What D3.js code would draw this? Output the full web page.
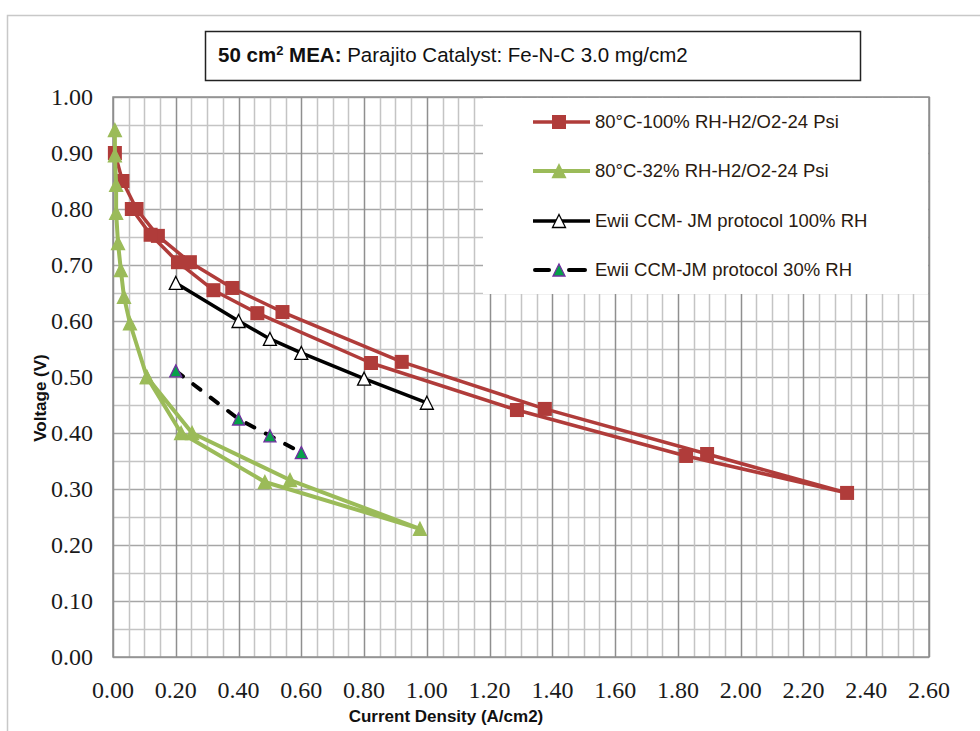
<!DOCTYPE html>
<html>
<head>
<meta charset="utf-8">
<script src="https://cdn.jsdelivr.net/npm/d3@7"></script>
<style>
  body { margin: 0; background: #fff; }
  text { font-family: "Liberation Sans", Arial, sans-serif; }
</style>
</head>
<body>
<div id="chart"></div>
<script>
// 80C 100% RH (goes out along the upper branch, comes back on the lower one)
var redX = [0.006, 0.03, 0.075, 0.143, 0.245, 0.38, 0.54, 0.92, 1.376, 1.893, 2.339, 1.826, 1.287, 0.822, 0.46, 0.32, 0.207, 0.12, 0.06];
var redY = [0.90, 0.85, 0.80, 0.752, 0.705, 0.659, 0.616, 0.527, 0.443, 0.3625, 0.293, 0.359, 0.441, 0.525, 0.614, 0.655, 0.705, 0.754, 0.80];

// 80C 32% RH
var greenX = [0.006, 0.006, 0.01, 0.01, 0.016, 0.025, 0.035, 0.054, 0.108, 0.252, 0.564, 0.978, 0.484, 0.217, 0.108];
var greenY = [0.941, 0.896, 0.843, 0.793, 0.739, 0.691, 0.643, 0.596, 0.50, 0.40, 0.316, 0.229, 0.3125, 0.40, 0.50];

// Ewii CCM - JM protocol 100% RH
var ewii100X = [0.2, 0.4, 0.5, 0.6, 0.8, 1.0];
var ewii100Y = [0.668, 0.600, 0.568, 0.543, 0.497, 0.454];

// Ewii CCM - JM protocol 30% RH
var ewii30X = [0.2, 0.4, 0.5, 0.6];
var ewii30Y = [0.511, 0.425, 0.395, 0.365];

var xTicks = d3.range(0, 2.61, 0.2);
var yTicks = d3.range(0, 1.01, 0.1);

var legendLabels = [
  "80°C-100% RH-H2/O2-24 Psi",
  "80°C-32% RH-H2/O2-24 Psi",
  "Ewii CCM- JM protocol 100% RH",
  "Ewii CCM-JM protocol 30% RH"
];

var width = 980, height = 731;
// plot box in pixels (window.top is reserved, so no plain "top")
var pLeft = 113, pRight = 929, pTop = 97, pBottom = 657;

var svg = d3.select("#chart").append("svg")
  .attr("width", width)
  .attr("height", height);

var x = d3.scaleLinear().domain([0, 2.6]).range([pLeft, pRight]);
var y = d3.scaleLinear().domain([0, 1]).range([pBottom, pTop]);

// outer frame of the pasted chart
svg.append("path")
  .attr("d", "M7.5," + height + " L7.5,15.5 L" + width + ",15.5")
  .attr("fill", "none")
  .attr("stroke", "#c8c8c8")
  .attr("stroke-width", 1.5);

// title box
svg.append("rect")
  .attr("x", 205.5).attr("y", 31.5)
  .attr("width", 655).attr("height", 49)
  .attr("fill", "#fff")
  .attr("stroke", "#222")
  .attr("stroke-width", 1.5);

var title = svg.append("text")
  .attr("x", 218).attr("y", 62)
  .attr("font-size", 20.5)
  .attr("fill", "#111");
title.append("tspan").attr("font-weight", "bold").text("50 cm");
title.append("tspan").attr("font-weight", "bold").attr("font-size", 13).attr("dy", -7).text("2");
title.append("tspan").attr("font-weight", "bold").attr("dy", 7).text(" MEA:");
title.append("tspan").text("  Parajito Catalyst: Fe-N-C 3.0 mg/cm2");

// grid
var minorX = d3.range(0, 2.601, 0.05);
var minorY = d3.range(0, 1.001, 0.05);

svg.append("g").selectAll("line")
  .data(minorY)
  .enter().append("line")
  .attr("x1", pLeft).attr("x2", pRight)
  .attr("y1", function (d) { return Math.round(y(d)) + 0.5; })
  .attr("y2", function (d) { return Math.round(y(d)) + 0.5; })
  .attr("stroke", function (d) { return Math.round(d * 100) % 10 == 0 ? "#a6a6a6" : "#c4c4c4"; })
  .attr("stroke-width", 1.5);

svg.append("g").selectAll("line")
  .data(minorX)
  .enter().append("line")
  .attr("y1", pTop).attr("y2", pBottom)
  .attr("x1", function (d) { return Math.round(x(d)) + 0.5; })
  .attr("x2", function (d) { return Math.round(x(d)) + 0.5; })
  .attr("stroke", function (d) { return Math.round(d * 100) % 20 == 0 ? "#8f8f8f" : "#c4c4c4"; })
  .attr("stroke-width", 1.5);

svg.append("rect")
  .attr("x", pLeft).attr("y", pTop)
  .attr("width", pRight - pLeft).attr("height", pBottom - pTop)
  .attr("fill", "none")
  .attr("stroke", "#8f8f8f")
  .attr("stroke-width", 1.5);

// legend area blanks the grid
svg.append("rect")
  .attr("x", 483).attr("y", pTop + 1)
  .attr("width", pRight - 483 - 1).attr("height", 293 - pTop)
  .attr("fill", "#fff");

// axis tick labels
svg.append("g").selectAll("text")
  .data(yTicks)
  .enter().append("text")
  .attr("x", 93)
  .attr("y", function (d) { return y(d); })
  .attr("dy", "0.35em")
  .attr("text-anchor", "end")
  .style("font-family", "'Liberation Serif', 'Times New Roman', serif")
  .attr("font-size", 24)
  .attr("fill", "#1a1a1a")
  .text(function (d) { return d.toFixed(2); });

svg.append("g").selectAll("text")
  .data(xTicks)
  .enter().append("text")
  .attr("x", function (d) { return x(d); })
  .attr("y", 698)
  .attr("text-anchor", "middle")
  .style("font-family", "'Liberation Serif', 'Times New Roman', serif")
  .attr("font-size", 24)
  .attr("fill", "#1a1a1a")
  .text(function (d) { return d.toFixed(2); });

svg.append("text")
  .attr("x", 446).attr("y", 722)
  .attr("text-anchor", "middle")
  .attr("font-size", 17)
  .attr("font-weight", "bold")
  .attr("fill", "#111")
  .text("Current Density (A/cm2)");

svg.append("text")
  .attr("transform", "translate(46,398) rotate(-90)")
  .attr("text-anchor", "middle")
  .attr("font-size", 17)
  .attr("font-weight", "bold")
  .attr("fill", "#111")
  .text("Voltage (V)");

// series
var red = "#b03c3a", green = "#9bbb59";

function pairs(xs, ys) {
  return xs.map(function (v, i) { return [v, ys[i]]; });
}

var line = d3.line()
  .x(function (d) { return x(d[0]); })
  .y(function (d) { return y(d[1]); });

var tri = function (w) {
  return "M0," + (-w / 2) + " L" + (w / 2) + "," + (w / 2) + " L" + (-w / 2) + "," + (w / 2) + " Z";
};

var series = [
  { data: pairs(redX, redY), stroke: red, width: 3.5, dash: null, shape: "square", size: 14, fill: red, edge: red },
  { data: pairs(greenX, greenY), stroke: green, width: 4, dash: null, shape: "tri", size: 13, fill: green, edge: green },
  { data: pairs(ewii100X, ewii100Y), stroke: "#000", width: 3.5, dash: null, shape: "tri", size: 13, fill: "#fff", edge: "#000" },
  { data: pairs(ewii30X, ewii30Y), stroke: "#000", width: 4, dash: "9,13", shape: "tri", size: 12, fill: "#07a04a", edge: "#7030a0" }
];

function marker(sel, s) {
  if (s.shape == "square") {
    sel.append("rect")
      .attr("x", -s.size / 2).attr("y", -s.size / 2)
      .attr("width", s.size).attr("height", s.size)
      .attr("fill", s.fill);
  } else {
    sel.append("path")
      .attr("d", tri(s.size))
      .attr("fill", s.fill)
      .attr("stroke", s.edge)
      .attr("stroke-width", 1.3);
  }
}

series.forEach(function (s) {
  svg.append("path")
    .datum(s.data)
    .attr("d", line)
    .attr("fill", "none")
    .attr("stroke", s.stroke)
    .attr("stroke-width", s.width)
    .attr("stroke-linejoin", "round")
    .attr("stroke-linecap", s.dash ? "round" : "butt")
    .attr("stroke-dasharray", s.dash);

  svg.append("g").selectAll("g")
    .data(s.data)
    .enter().append("g")
    .attr("transform", function (d) { return "translate(" + x(d[0]) + "," + y(d[1]) + ")"; })
    .each(function () { marker(d3.select(this), s); });
});

// legend
var legendY = [122, 171, 221, 270];
series.forEach(function (s, i) {
  var g = svg.append("g").attr("transform", "translate(0," + legendY[i] + ")");
  if (s.dash) {
    g.append("line").attr("x1", 535).attr("x2", 549).attr("stroke", "#000").attr("stroke-width", 4).attr("stroke-linecap", "round");
    g.append("line").attr("x1", 569).attr("x2", 585).attr("stroke", "#000").attr("stroke-width", 4).attr("stroke-linecap", "round");
  } else {
    g.append("line").attr("x1", 533).attr("x2", 590).attr("stroke", s.stroke).attr("stroke-width", s.width);
  }
  var m = g.append("g").attr("transform", "translate(559,0)");
  marker(m, s);
  g.append("text")
    .attr("x", 595).attr("dy", "0.35em")
    .attr("font-size", 18.5)
    .attr("fill", "#2a1a10")
    .text(legendLabels[i]);
});
</script>
</body>
</html>
